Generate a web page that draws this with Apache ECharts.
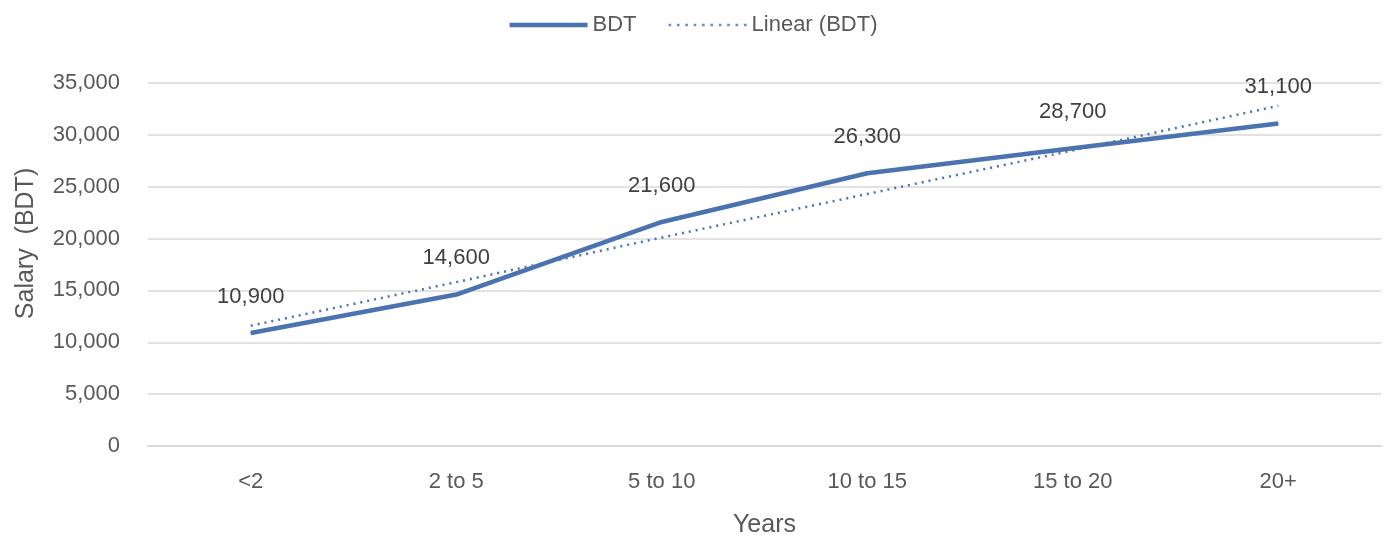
<!DOCTYPE html>
<html><head><meta charset="utf-8">
<script src="https://cdn.jsdelivr.net/npm/echarts@6/dist/echarts.min.js"></script>
<style>html,body{margin:0;padding:0;background:#fff}#c{width:1387px;height:536px}</style>
</head><body><div id="c"></div>
<script>
const categories = ['<2', '2 to 5', '5 to 10', '10 to 15', '15 to 20', '20+'];
const salaryBDT = [10900, 14600, 21600, 26300, 28700, 31100];
const linearBDT = [11600, 15800, 20100, 24300, 28500, 32800];
const yTicks = [0, 5000, 10000, 15000, 20000, 25000, 30000, 35000];

const FONT = '"Liberation Sans", Arial, sans-serif';
const TXT = '#595959';
const BLUE = '#4a73b0';
const fmt = v => v.toLocaleString('en-US');

let dots = '';
for (let i = 0; i < 10; i++) { const x = i * 8; dots += `M${x},6 L${x + 2.5},6 L${x + 2.5},8.5 L${x},8.5 Z `; }

const chart = echarts.init(document.getElementById('c'));
chart.setOption({
  animation: false,
  backgroundColor: '#fff',
  textStyle: { fontFamily: FONT },
  legend: {
    top: 9, left: 'center', itemGap: 32, itemWidth: 78, itemHeight: 14,
    textStyle: { fontFamily: FONT, fontSize: 22, color: TXT },
    data: [
      { name: 'BDT', icon: 'path://M0,5 L78,5 L78,9.5 L0,9.5 Z', itemStyle: { color: BLUE } },
      { name: 'Linear (BDT)', icon: 'path://' + dots, itemStyle: { color: '#6a8cc0' } }
    ]
  },
  grid: { left: 148, right: 6, top: 83, bottom: 90, containLabel: false, outerBoundsMode: 'none' },
  xAxis: {
    type: 'category', data: categories, boundaryGap: true,
    name: 'Years', nameLocation: 'middle', nameGap: 67,
    nameTextStyle: { fontFamily: FONT, fontSize: 25, color: TXT },
    axisLine: { lineStyle: { color: '#d9d9d9', width: 2 } },
    axisTick: { show: false },
    axisLabel: { fontFamily: FONT, fontSize: 22, color: TXT, margin: 25 }
  },
  yAxis: {
    type: 'value', min: yTicks[0], max: yTicks[yTicks.length - 1], interval: 5000,
    name: 'Salary  (BDT)', nameLocation: 'middle', nameGap: 109,
    nameTextStyle: { fontFamily: FONT, fontSize: 25, color: TXT, padding: [0, 0, 0, 42] },
    axisLine: { show: false }, axisTick: { show: false },
    splitLine: { lineStyle: { color: '#d9d9d9', width: 1.5 } },
    axisLabel: { fontFamily: FONT, fontSize: 22, color: TXT, margin: 28, formatter: v => fmt(v) }
  },
  series: [
    {
      name: 'BDT', type: 'line', data: salaryBDT, symbol: 'circle', symbolSize: 1, showSymbol: true,
      lineStyle: { color: BLUE, width: 4.5 }, itemStyle: { color: BLUE },
      label: { show: true, position: 'top', distance: 25, fontFamily: FONT, fontSize: 22, color: '#404040', formatter: p => fmt(p.value) },
      labelLayout: { hideOverlap: false },
      z: 3
    },
    {
      name: 'Linear (BDT)', type: 'line', data: linearBDT, symbol: 'none',
      lineStyle: { color: BLUE, width: 2.5, type: [2, 5] }, itemStyle: { color: BLUE },
      z: 2
    }
  ]
});
</script></body></html>
